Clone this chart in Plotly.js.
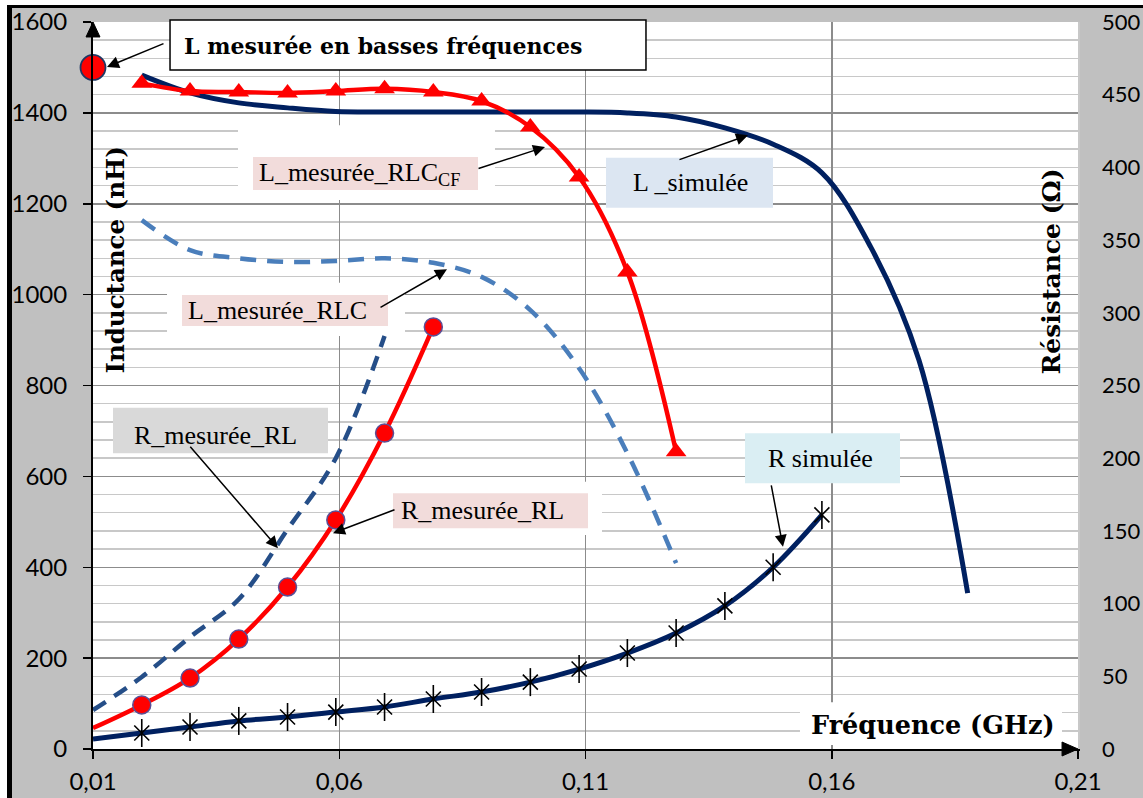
<!DOCTYPE html>
<html>
<head>
<meta charset="utf-8">
<script src="https://cdn.plot.ly/plotly-3.0.1.min.js"></script>
<style>
  html, body { margin:0; padding:0; background:#ffffff; }
  #chart { position:absolute; left:0; top:0; width:1143px; height:798px; }
  .frame { position:absolute; }
</style>
</head>
<body>
<div id="chart"></div>
<div class="frame" style="left:0;top:0;width:7px;height:798px;background:#fff"></div>
<div class="frame" style="left:0;top:0;width:1143px;height:5px;background:#fff"></div>
<div class="frame" style="left:7px;top:5px;width:5px;height:793px;background:#000"></div>
<div class="frame" style="left:7px;top:5px;width:1136px;height:3px;background:#000"></div>
<script>
// ---- data (GHz, nH, Ohm) ----
const freq = [0.01, 0.0199, 0.0297, 0.0396, 0.0495, 0.0593, 0.0692, 0.0791, 0.0889, 0.0988,
              0.1087, 0.1185, 0.1284, 0.1383, 0.1481, 0.1580, 0.1679, 0.1777, 0.1876];
const L_bf_freq = [0.01];
const L_bf = [1500];
const L_rlc_cf = [1465, 1448, 1446, 1444, 1448, 1453, 1446, 1426, 1369, 1259, 1050, 654];
const L_sim = [1483, 1444, 1422, 1411, 1403, 1402, 1402, 1402, 1402, 1402, 1400, 1391, 1367, 1331, 1268, 1105, 856, 343];
const L_rlc = [1164, 1098, 1080, 1072, 1074, 1080, 1070, 1039, 966, 838, 651, 409];
const R_rl_dash = [26.8, 49.5, 77, 103, 151, 200, 284];
const R_rl = [14.4, 30.3, 48.8, 75.6, 111.4, 157.5, 217.3, 290.3];
const R_sim = [6.9, 11, 15.1, 19.3, 22, 25.4, 28.9, 34.4, 39.2, 46, 55, 66, 79.8, 98.4, 125, 161];
const xTickVals = [0.01, 0.06, 0.11, 0.16, 0.21];
const xTickText = ['0,01', '0,06', '0,11', '0,16', '0,21'];

// ---- styles ----
const RED = '#ff0000', NAVY = '#002060', DASH1 = '#4a7ebb', DASH2 = '#254e88';
const tickFont = {family:'Lato, "Open Sans", sans-serif', size:24, color:'#000'};
const tickFontR = {family:'Lato, "Open Sans", sans-serif', size:22, color:'#000'};
const serif = 'Liberation Serif, "Times New Roman", serif';
const boldSerif = '"DejaVu Serif", serif';

const traces = [
  {x: freq.slice(1, 13), y: L_rlc, mode:'lines', line:{color:DASH1, width:4.5, dash:'16px,11px', shape:'spline'}},
  {x: freq.slice(0, 7), y: R_rl_dash, yaxis:'y2', mode:'lines', line:{color:DASH2, width:4.5, dash:'15px,10px', shape:'spline'}},
  {x: freq.slice(1, 19), y: L_sim, mode:'lines', line:{color:NAVY, width:5, shape:'spline'}},
  {x: freq.slice(0, 16), y: R_sim, yaxis:'y2', mode:'lines', line:{color:NAVY, width:5, shape:'spline'}},
  {x: freq.slice(1, 16), y: R_sim.slice(1), yaxis:'y2', mode:'markers', marker:{symbol:'x-thin-open', size:15, color:'#000', line:{color:'#000', width:1.6}}},
  {x: freq.slice(1, 16), y: R_sim.slice(1), yaxis:'y2', mode:'markers', marker:{symbol:'line-ns-open', size:20, color:'#000', line:{color:'#000', width:1.6}}},
  {x: freq.slice(1, 13), y: L_rlc_cf, mode:'lines+markers', line:{color:RED, width:4.5, shape:'spline'}, marker:{symbol:'triangle-up', size:18, color:RED}},
  {x: freq.slice(0, 8), y: R_rl, yaxis:'y2', mode:'lines', line:{color:RED, width:4.5, shape:'spline'}},
  {x: freq.slice(1, 8), y: R_rl.slice(1), yaxis:'y2', mode:'markers', marker:{symbol:'circle', size:18, color:RED, line:{color:'#5a4f96', width:1.5}}},
  {x: L_bf_freq, y: L_bf, mode:'markers', cliponaxis:false, marker:{symbol:'circle', size:25, color:RED, line:{color:'#1f3864', width:1.8}}}
];

function box(x0, x1, y0, y1, fill) {
  return {type:'rect', xref:'x', yref:'y', x0:x0, x1:x1, y0:y0, y1:y1, fillcolor:fill, line:{width:0}, layer:'between'};
}
const shapes = [
  // white areas behind labels
  box(0.03944, 0.09162, 1208, 1373, '#ffffff'),
  box(0.02503, 0.07335, 909, 1026, '#ffffff'),
  box(0.06015, 0.11335, 471, 588, '#ffffff'),
  box(0.15355, 0.20675, 9, 103, '#ffffff'),
  // coloured label boxes
  box(0.04249, 0.08817, 1230, 1303, '#f2dcdb'),
  box(0.11416, 0.14807, 1191, 1301, '#dce6f2'),
  box(0.02807, 0.06990, 931, 999, '#f2dcdb'),
  box(0.01406, 0.05772, 651, 751, '#d9d9d9'),
  box(0.07091, 0.11051, 486, 563, '#f2dcdb'),
  box(0.14239, 0.17386, 585, 695, '#daeef3'),
  // title box
  {type:'rect', xref:'paper', yref:'paper', x0:0.0782, x1:0.5614, y0:0.934, y1:1.0028, fillcolor:'#ffffff', line:{color:'#000', width:1.5}, layer:'above'},
  // axis arrowheads
  {type:'path', xref:'paper', yref:'paper', path:'M -0.0071 0.9794 L 0 1.0 L 0.0071 0.9794 Z', fillcolor:'#000', line:{color:'#000', width:1}, layer:'above'},
  {type:'path', xref:'paper', yref:'paper', path:'M 0.9838 0.0096 L 1.0 0 L 0.9838 -0.0096 Z', fillcolor:'#000', line:{color:'#000', width:1}, layer:'above'}
];

function label(x, y, text, font, extra) {
  return Object.assign({x:x, y:y, xref:'x', yref:'y', text:text, showarrow:false, xanchor:'center', yanchor:'middle', font:font}, extra || {});
}
function arrow(x, y, ax, ay) {
  return {x:x, y:y, xref:'x', yref:'y', text:'', showarrow:true, ax:ax, ay:ay, arrowhead:2, arrowsize:1.6, arrowwidth:1.5, arrowcolor:'#000', standoff:0, startstandoff:0};
}
const lblFont = {family:serif, size:26, color:'#000'};
const annotations = [
  {x:0.2944, y:0.967, xref:'paper', yref:'paper', text:'L mesurée en basses fréquences', showarrow:false, xanchor:'center', yanchor:'middle',
   font:{family:boldSerif, size:22, color:'#000', weight:700}},
  arrow(0.01284, 1501, 58, -24),
  label(0.06421, 1266, 'L_mesurée_RLC<sub>CF</sub>', lblFont),
  arrow(0.10178, 1325, -68, 22),
  label(0.13122, 1246, 'L _simulée', lblFont),
  arrow(0.14299, 1351, -70, 25),
  label(0.04746, 966, 'L_mesurée_RLC', lblFont),
  arrow(0.08188, 1056, -68, 39),
  label(0.03487, 691, 'R_mesurée_RL', lblFont),
  arrow(0.04756, 442, -89, -103),
  label(0.0890, 526, 'R_mesurée_RL', lblFont),
  arrow(0.05873, 475, 63, -24),
  label(0.15762, 640, 'R simulée', lblFont),
  arrow(0.1501, 445, -12, -63),
  label(0.18046, 53, 'Fréquence (GHz)', {family:boldSerif, size:25.5, color:'#000', weight:700}),
  label(0.01467, 1075, 'Inductance (nH)', {family:boldSerif, size:24.5, color:'#000', weight:700}, {textangle:-90}),
  label(0.20462, 1050, 'Résistance (Ω)', {family:boldSerif, size:25, color:'#000', weight:700}, {textangle:-90})
];

const layout = {
  width:1143, height:798,
  margin:{l:93, r:65, t:22, b:49, pad:0},
  paper_bgcolor:'#c0c0c0', plot_bgcolor:'#ffffff',
  showlegend:false,
  xaxis:{range:[0.01, 0.21], tickvals:xTickVals, ticktext:xTickText, showgrid:true, gridcolor:'#8c8c8c', gridwidth:1.5,
         showline:true, linecolor:'#000', linewidth:2, ticks:'outside', ticklen:8, tickwidth:1.5, tickcolor:'#000',
         zeroline:false, tickfont:tickFont, ticklabelstandoff:2},
  yaxis:{range:[0, 1600], dtick:200, tick0:0, showgrid:true, gridcolor:'#8c8c8c', gridwidth:1.5,
         minor:{dtick:40, showgrid:true, gridcolor:'#c8c8c8', gridwidth:1.5},
         showline:true, linecolor:'#000', linewidth:2, ticks:'outside', ticklen:8, tickwidth:1.5, tickcolor:'#000',
         zeroline:false, tickfont:tickFont, ticklabelstandoff:11},
  yaxis2:{range:[0, 500], dtick:50, tick0:0, overlaying:'y', side:'right', showgrid:false, zeroline:false,
          showline:true, linecolor:'#c8c8c8', linewidth:1.5, ticks:'', tickfont:tickFontR, ticklabelstandoff:18},
  shapes:shapes,
  annotations:annotations
};
Plotly.newPlot('chart', traces, layout, {displayModeBar:false, staticPlot:true});
</script>
</body>
</html>
